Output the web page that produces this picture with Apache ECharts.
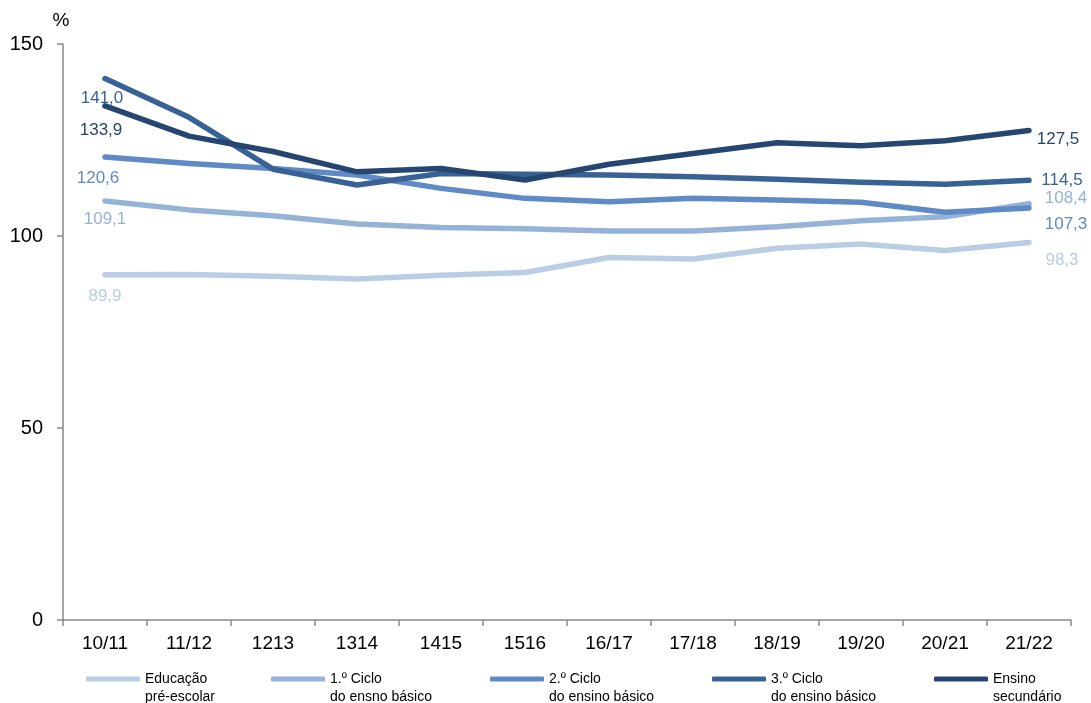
<!DOCTYPE html>
<html>
<head>
<meta charset="utf-8">
<script src="https://cdn.jsdelivr.net/npm/echarts@6/dist/echarts.min.js"></script>
<style>
    html, body { margin: 0; padding: 0; background: #fff; }
    #main { width: 1091px; height: 703px; }
</style>
</head>
<body>
<div id="main"></div>
<script>
    var anos = ['10/11', '11/12', '1213', '1314', '1415', '1516', '16/17', '17/18', '18/19', '19/20', '20/21', '21/22'];
    var nomes = ['Educação pré-escolar', '1.º Ciclo do ensno básico', '2.º Ciclo do ensino básico', '3.º Ciclo do ensino básico', 'Ensino secundário'];
    var legendas = ['Educação\npré-escolar', '1.º Ciclo\ndo ensno básico', '2.º Ciclo\ndo ensino básico', '3.º Ciclo\ndo ensino básico', 'Ensino\nsecundário'];
    var preEscolar = [89.9, 90.0, 89.5, 88.8, 89.8, 90.5, 94.4, 94.0, 96.8, 97.9, 96.2, 98.3];
    var ciclo1 = [109.1, 106.8, 105.3, 103.1, 102.2, 101.9, 101.3, 101.3, 102.4, 104.0, 105.0, 108.4];
    var ciclo2 = [120.6, 118.9, 117.6, 115.9, 112.4, 109.8, 108.9, 109.8, 109.4, 108.8, 106.2, 107.3];
    var ciclo3 = [141.0, 130.9, 117.4, 113.3, 116.3, 116.1, 115.9, 115.4, 114.8, 114.0, 113.5, 114.5];
    var secundario = [133.9, 126.0, 122.0, 116.7, 117.6, 114.6, 118.7, 121.5, 124.3, 123.5, 124.8, 127.5];

    var valores = [preEscolar, ciclo1, ciclo2, ciclo3, secundario];
    var cores = ['#b9cde5', '#95b3d7', '#5f8ac5', '#386296', '#254670'];
    // posicao dos rotulos (inicio / fim) relativa ao ponto
    var offInicio = [[0, 22], [0, 18], [-7, 21], [-3, 20], [-4, 24]];
    var offFim = [[33, 18], [37, -5], [37, 16], [33, 0], [29, 9]];
    var legLeft = [86, 271, 490, 712, 934];

    var fmt = function (v) { return v.toFixed(1).replace('.', ','); };

    var series = [];
    var legend = [];
    for (var k = 0; k < valores.length; k++) {
        var dados = valores[k].map(function (v, i, arr) {
            if (i === 0 || i === arr.length - 1) {
                return {
                    value: v,
                    label: {
                        show: true,
                        position: 'inside',
                        offset: i === 0 ? offInicio[k] : offFim[k]
                    }
                };
            }
            return v;
        });
        series.push({
            name: nomes[k],
            type: 'line',
            data: dados,
            symbol: 'circle',
            symbolSize: 0.1,
            showSymbol: true,
            itemStyle: { color: cores[k] },
            lineStyle: { color: cores[k], width: 5.5, cap: 'round', join: 'round' },
            label: {
                show: false,
                color: cores[k],
                fontSize: 17,
                fontFamily: 'Liberation Sans, Arial, sans-serif',
                formatter: function (p) { return fmt(p.value); }
            },
            emphasis: { disabled: true },
            animation: false
        });
        legend.push({
            data: [{ name: nomes[k], itemStyle: { color: cores[k] } }],
            left: legLeft[k],
            top: 652,
            icon: 'roundRect',
            itemWidth: 54,
            itemHeight: 5,
            itemGap: 5,
            padding: 0,
            selectedMode: false,
            // linha vazia no topo para alinhar o icone com a 1a linha
            formatter: (function (t) { return function () { return ' \n' + t; }; })(legendas[k]),
            textStyle: {
                fontSize: 14,
                lineHeight: 18,
                color: '#000',
                fontFamily: 'Liberation Sans, Arial, sans-serif'
            }
        });
    }

    var myChart = echarts.init(document.getElementById('main'));
    var option = {
        backgroundColor: '#fff',
        animation: false,
        grid: { left: 63, right: 20, top: 44, bottom: 83 },
        legend: legend,
        xAxis: {
            type: 'category',
            data: anos,
            boundaryGap: true,
            axisLine: { lineStyle: { color: '#898989', width: 1.5 } },
            axisTick: { show: true, length: 6, lineStyle: { color: '#898989', width: 1.5 } },
            axisLabel: {
                color: '#000',
                fontSize: 19,
                margin: 14,
                fontFamily: 'Liberation Sans, Arial, sans-serif'
            }
        },
        yAxis: {
            type: 'value',
            min: 0,
            max: 150,
            interval: 50,
            name: '%',
            nameGap: 14,
            nameTextStyle: {
                color: '#000',
                fontSize: 19,
                fontFamily: 'Liberation Sans, Arial, sans-serif',
                padding: [0, 0, 0, -4]
            },
            axisLine: { show: true, lineStyle: { color: '#898989', width: 1.5 } },
            axisTick: { show: true, length: 6, lineStyle: { color: '#898989', width: 1.5 } },
            splitLine: { show: false },
            axisLabel: {
                color: '#000',
                fontSize: 20,
                margin: 20,
                fontFamily: 'Liberation Sans, Arial, sans-serif'
            }
        },
        series: series
    };
    myChart.setOption(option);
</script>
</body>
</html>
